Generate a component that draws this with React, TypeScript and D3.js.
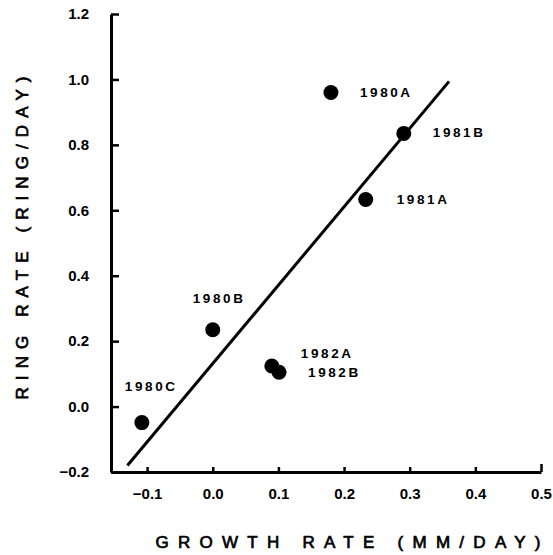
import { useEffect, useRef } from "react";
import * as d3 from "d3";

const WIDTH = 553;
const HEIGHT = 555;
const FONT = "'Liberation Sans', Arial, sans-serif";

// observations: growth rate (mm/day) vs ring rate (ring/day)
const labels = ["1980A", "1981B", "1981A", "1980B", "1982A", "1982B", "1980C"];
const growth = [0.18, 0.291, 0.233, 0.0, 0.09, 0.101, -0.108];
const rings = [0.96, 0.835, 0.633, 0.235, 0.124, 0.105, -0.049];
// label offsets from the point, in px
const labelDx = [29, 29, 31, -20, 29, 29, -17];
const labelDy = [4, 4, 5, -27, -8, 5, -32];

// fitted line end points
const fitX = [-0.13, 0.36];
const fitY = [-0.18, 0.994];

const xTicks = [-0.1, 0, 0.1, 0.2, 0.3, 0.4, 0.5];
const yTicks = [-0.2, 0, 0.2, 0.4, 0.6, 0.8, 1.0, 1.2];

const xScale = d3.scaleLinear().domain([-0.155, 0.5]).range([111, 541]);
const yScale = d3.scaleLinear().domain([-0.2, 1.2]).range([472, 14]);

const fmt = (v: number) => (v < 0 ? "\u2212" : "") + Math.abs(v).toFixed(1);

export default function App() {
  const axesRef = useRef<SVGGElement | null>(null);

  useEffect(() => {
    const g = d3.select(axesRef.current);
    g.selectAll("*").remove();

    const yAxis = d3
      .axisLeft(yScale)
      .tickValues(yTicks)
      .tickSize(-8)
      .tickSizeOuter(0)
      .tickPadding(22)
      .tickFormat((d) => fmt(d as number));
    g.append("g").attr("transform", `translate(${xScale.range()[0]},0)`).call(yAxis);

    const xAxis = d3
      .axisBottom(xScale)
      .tickValues(xTicks)
      .tickSize(-5)
      .tickSizeOuter(0)
      .tickPadding(16)
      .tickFormat((d) => fmt(d as number));
    g.append("g").attr("transform", `translate(0,${yScale.range()[0]})`).call(xAxis);

    // the last x tick is a longer end mark
    g.selectAll<SVGGElement, number>(".tick")
      .filter((d) => d === 0.5)
      .select("line")
      .attr("y2", -8);

    g.selectAll(".domain").attr("stroke", "#000").attr("stroke-width", 3);
    g.selectAll(".tick line").attr("stroke", "#000").attr("stroke-width", 2.5);
    g.selectAll(".tick text")
      .attr("fill", "#000")
      .style("font-family", FONT)
      .style("font-size", "15px")
      .style("font-weight", "bold");
  }, []);

  const fit = d3.line<number>()
    .x((_, i) => xScale(fitX[i]))
    .y((d) => yScale(d))(fitY);

  return (
    <svg
      width={WIDTH}
      height={HEIGHT}
      style={{ position: "absolute", left: 0, top: 0, background: "#fff" }}
    >
      <g ref={axesRef} />
      <path d={fit ?? ""} stroke="#000" strokeWidth={3} fill="none" />
      {growth.map((gx, i) => (
        <circle key={labels[i]} cx={xScale(gx)} cy={yScale(rings[i])} r={7.5} fill="#000" />
      ))}
      {growth.map((gx, i) => (
        <text
          key={"l" + labels[i]}
          x={xScale(gx) + labelDx[i]}
          y={yScale(rings[i]) + labelDy[i]}
          fontFamily={FONT}
          fontSize={13.5}
          fontWeight="bold"
          letterSpacing={2.6}
        >
          {labels[i]}
        </text>
      ))}
      <text
        x={348}
        y={548}
        textAnchor="middle"
        fontFamily={FONT}
        fontSize={17}
        stroke="#000"
        strokeWidth={0.7}
        textLength={385}
        lengthAdjust="spacing"
      >
        GROWTH RATE (MM/DAY)
      </text>
      <text
        transform="translate(28,238) rotate(-90)"
        textAnchor="middle"
        fontFamily={FONT}
        fontSize={17}
        stroke="#000"
        strokeWidth={0.7}
        textLength={323}
        lengthAdjust="spacing"
      >
        RING RATE (RING/DAY)
      </text>
    </svg>
  );
}
